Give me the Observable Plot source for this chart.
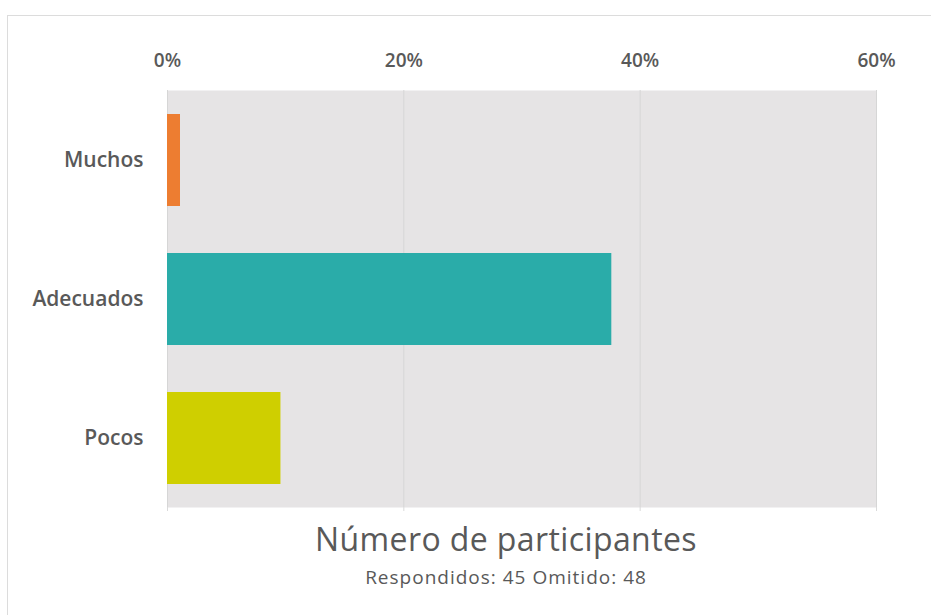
<!DOCTYPE html>
<html>
<head>
<meta charset="utf-8">
<script src="https://cdn.jsdelivr.net/npm/d3@7"></script>
<script src="https://cdn.jsdelivr.net/npm/@observablehq/plot@0.6"></script>
<style>
  html, body { margin: 0; padding: 0; background: #ffffff; }
  #wrap { position: relative; width: 931px; height: 615px; overflow: hidden; font-family: "Open Sans", Lato, sans-serif; }
  #border { position: absolute; left: 7px; top: 15px; width: 1000px; height: 700px; border-top: 1px solid #dcdcdc; border-left: 1px solid #dcdcdc; }
  #chart { position: absolute; left: 0; top: 0; }
  .title { position: absolute; left: 206px; width: 600px; text-align: center; color: #595959; white-space: nowrap; }
  #t1 { top: 523px; font-size: 32px; line-height: 32px; letter-spacing: 0.4px; }
  #t2 { top: 568px; font-size: 19px; line-height: 19px; letter-spacing: 1px; }
</style>
</head>
<body>
<div id="wrap">
  <div id="border"></div>
  <div id="chart"></div>
  <div class="title" id="t1">Número de participantes</div>
  <div class="title" id="t2">Respondidos: 45 Omitido: 48</div>
</div>
<script>
const categories = ["Muchos", "Adecuados", "Pocos"];
const values = [0.011, 0.376, 0.096];
const colors = ["#ed7d31", "#2aaca9", "#cfcf00"];
const xTicks = [0, 0.2, 0.4, 0.6];

const data = categories.map((c, i) => ({cat: c, value: values[i]}));

const chart = Plot.plot({
  width: 931,
  height: 615,
  marginLeft: 167,
  marginRight: 55,
  marginTop: 90,
  marginBottom: 108,
  style: {fontFamily: "'Open Sans', Lato, sans-serif", background: "transparent"},
  x: {domain: [0, 0.6], axis: null},
  y: {domain: categories, paddingInner: 0.34, paddingOuter: 0.17, axis: null},
  color: {domain: categories, range: colors},
  marks: [
    Plot.frame({fill: "#e6e4e5", stroke: null}),
    Plot.ruleX(xTicks, {stroke: "#d6d6d6", strokeWidth: 1}),
    Plot.axisX({anchor: "bottom", ticks: xTicks, tickSize: 4, tickFormat: () => "", stroke: "#dadada", label: null}),
    Plot.axisX({anchor: "top", ticks: xTicks, tickFormat: d3.format(".0%"), tickSize: 0, tickPadding: 24, fontSize: 19, fontWeight: 600, fill: "#595959", label: null}),
    Plot.axisY({tickSize: 0, tickPadding: 24, fontSize: 21, fontWeight: 600, fill: "#595959", label: null}),
    Plot.barX(data, {x: "value", y: "cat", fill: "cat"})
  ]
});
document.getElementById("chart").appendChild(chart);
</script>
</body>
</html>
